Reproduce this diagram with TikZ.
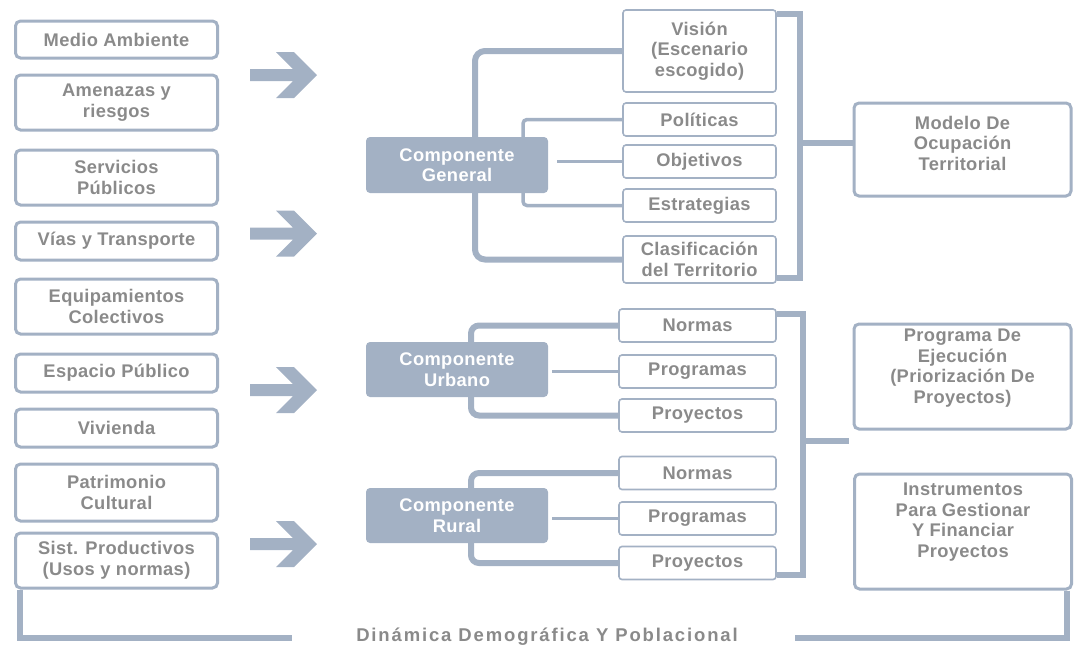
\documentclass[tikz,border=0pt]{standalone}
\usepackage{fontspec}
\setmainfont{Liberation Sans}[LetterSpace=2]
\newfontfamily\widefont{Liberation Sans}[LetterSpace=10]
\usepackage{tikz}

\definecolor{lineblue}{RGB}{163,177,196}
\definecolor{txtgray}{RGB}{138,138,138}
\newcommand\lblfont{\bfseries\fontsize{18.3}{20.5}\selectfont}

\begin{document}
\begin{tikzpicture}
[x=1pt,y=-1pt]
\tikzset{
	leftbox/.style = {draw=lineblue, line width=3pt, rounded corners=5pt, inner sep=0, minimum width=202pt, align=center, text=txtgray, font=\lblfont},
	compbox/.style = {fill=lineblue, rounded corners=4pt, inner sep=0, minimum width=182pt, align=center, text=white, font=\lblfont},
	itembox/.style = {draw=lineblue, line width=1.6pt, rounded corners=3pt, inner sep=0, minimum width=153pt, align=center, text=txtgray, font=\lblfont},
	resultbox/.style = {draw=lineblue, line width=3pt, rounded corners=5pt, inner sep=0, minimum width=217pt},
	resulttext/.style = {align=center, text=txtgray, font=\lblfont},
	thickline/.style = {draw=lineblue, line width=6pt},
	thinline/.style = {draw=lineblue, line width=3.5pt}
}
\useasboundingbox (0,0) rectangle (1077,646);

% temas de la izquierda
\node[leftbox, minimum height=37pt] (ma) at (116.5,39.5) {Medio Ambiente};
\node[leftbox, minimum height=55pt] (ar) at (116.5,102.5) {Amenazas y\\riesgos};
\node[leftbox, minimum height=55pt] (sp) at (116.5,177.5) {Servicios\\Públicos};
\node[leftbox, minimum height=38pt] (vt) at (116.5,241) {Vías y Transporte};
\node[leftbox, minimum height=55pt] (ec) at (116.5,306.5) {Equipamientos\\Colectivos};
\node[leftbox, minimum height=38pt] (ep) at (116.5,373) {Espacio Público};
\node[leftbox, minimum height=38pt] (vi) at (116.5,428) {Vivienda};
\node[leftbox, minimum height=57pt] (pc) at (116.5,492.5) {Patrimonio\\Cultural};
\node[leftbox, minimum height=55pt] (sist) at (116.5,560.5) {Sist. Productivos\\(Usos y normas)};

\foreach \y in {75,233.5,390,544}
	\fill[lineblue] (250,\y-6) -- (293,\y-6) -- (276,\y-23) -- (294,\y-23) -- (317,\y)
		-- (294,\y+23) -- (276,\y+23) -- (293,\y+6) -- (250,\y+6) -- cycle;

% componentes
\node[compbox, minimum height=56pt] (gen) at (457,165) {Componente\\General};
\node[compbox, minimum height=55pt] (urb) at (457,369.5) {Componente\\Urbano};
\node[compbox, minimum height=55pt] (rur) at (457,515.5) {Componente\\Rural};

\node[itembox, minimum height=82pt] (vis) at (699.5,51) {Visión\\(Escenario\\escogido)};
\node[itembox, minimum height=33pt] (pol) at (699.5,119.5) {Políticas};
\node[itembox, minimum height=33pt] (obj) at (699.5,161.5) {Objetivos};
\node[itembox, minimum height=33pt] (est) at (699.5,205.5) {Estrategias};
\node[itembox, minimum height=47pt] (cla) at (699.5,259.5) {Clasificación\\del Territorio};

\node[itembox, minimum width=157pt, minimum height=33pt] (unor) at (697.5,325.5) {Normas};
\node[itembox, minimum width=157pt, minimum height=33pt] (uprg) at (697.5,371.5) {Programas};
\node[itembox, minimum width=157pt, minimum height=33pt] (upry) at (697.5,415.5) {Proyectos};
\node[itembox, minimum width=157pt, minimum height=33pt] (rnor) at (697.5,473) {Normas};
\node[itembox, minimum width=157pt, minimum height=33pt] (rprg) at (697.5,518.5) {Programas};
\node[itembox, minimum width=157pt, minimum height=33pt] (rpry) at (697.5,563) {Proyectos};

% resultados
\node[resultbox, minimum height=93pt] (mod) at (962.5,149.5) {};
\node[resulttext] (modtxt) at (962.5,143) {Modelo De\\Ocupación\\Territorial};
\node[resultbox, minimum height=105pt] (prg) at (962.5,376.5) {};
\node[resulttext] (prgtxt) at (962.5,368) {Programa De\\Ejecución\\(Priorización De\\Proyectos)};
\node[resultbox, minimum height=115pt] (ins) at (963,531.5) {};
\node[resulttext] (instxt) at (963,522) {Instrumentos\\Para Gestionar\\Y Financiar\\Proyectos};

% conectores
\draw[thickline, rounded corners=10pt] (vis.west) -| ([xshift=18]gen.north);
\draw[thickline, rounded corners=10pt] ([xshift=18]gen.south) |- (cla.west);
\draw[thinline, rounded corners=4pt] (pol.west) -| ([xshift=66]gen.north);
\draw[thinline, rounded corners=4pt] ([xshift=66]gen.south) |- (est.west);
\draw[thinline] ([xshift=9]gen.east |- obj.west) -- (obj.west);

\draw[thickline, rounded corners=8pt] (unor.west) -| ([xshift=14]urb.north);
\draw[thickline, rounded corners=8pt] ([xshift=14]urb.south) |- (upry.west);
\draw[thinline] ([xshift=4]urb.east |- uprg.west) -- (uprg.west);
\draw[thickline, rounded corners=8pt] (rnor.west) -| ([xshift=14]rur.north);
\draw[thickline, rounded corners=8pt] ([xshift=14]rur.south) |- (rpry.west);
\draw[thinline] ([xshift=4]rur.east |- rprg.west) -- (rprg.west);

\coordinate (gbr) at (800,143);
\coordinate (ubr) at (803,441);
\draw[thickline] ([yshift=-5]vis.north east) -| (gbr) |- ([yshift=6]cla.south east);
\draw[thickline] (gbr) -- (gbr -| mod.west);
\draw[thickline] ([yshift=-6]unor.north east) -| (ubr) |- ([yshift=5]rpry.south east);
\draw[thickline] (ubr) -- ([xshift=-4]ubr -| prg.west);

% dinamica
\node[anchor=base, text=txtgray, font=\widefont\bfseries\fontsize{18.5}{22}\selectfont] (dem) at (547,641) {Dinámica Demográfica Y Poblacional};
\coordinate (bl) at (292,638);
\coordinate (br) at (795,638);
\draw[thickline] ([xshift=6]sist.south west) |- (bl);
\draw[thickline] ([xshift=-6]ins.south east) |- (br);

\end{tikzpicture}
\end{document}
